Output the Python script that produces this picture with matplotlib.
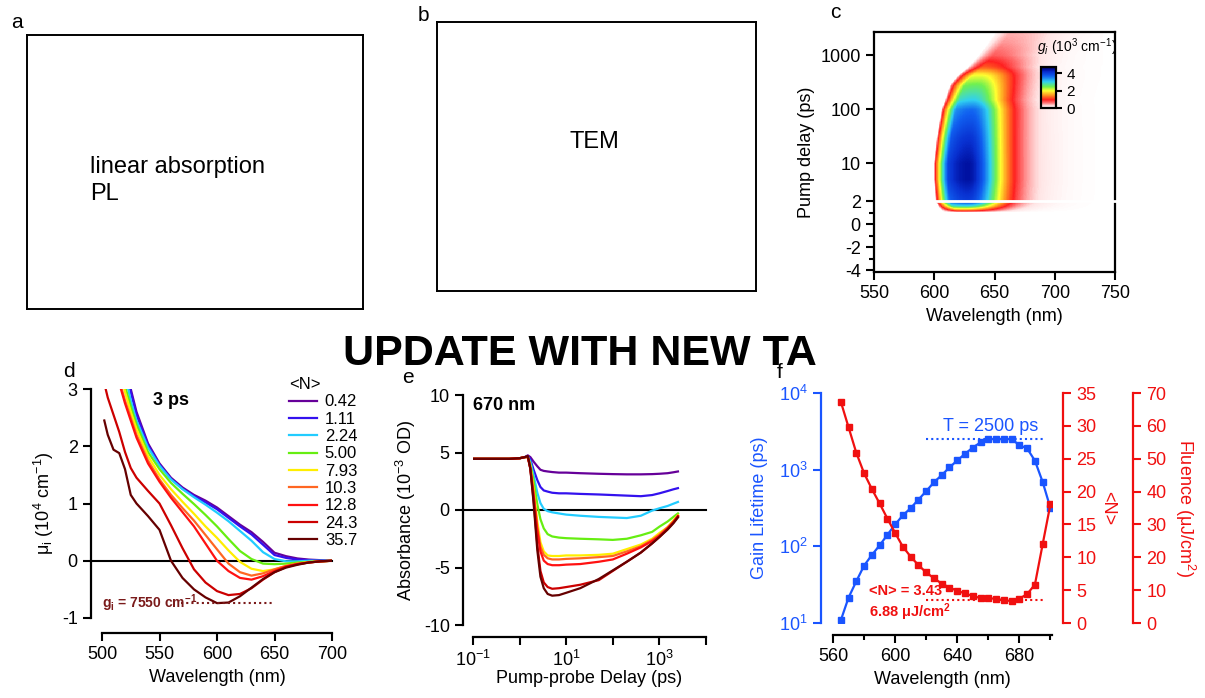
import numpy as np
import matplotlib
matplotlib.use('Agg')
import matplotlib.pyplot as plt
from matplotlib.colors import LinearSegmentedColormap
from matplotlib.ticker import FixedLocator, FixedFormatter, NullLocator

plt.rcParams['font.family'] = ['Liberation Sans', 'DejaVu Sans']
plt.rcParams['mathtext.fontset'] = 'custom'
plt.rcParams['mathtext.rm'] = 'Liberation Sans'
plt.rcParams['mathtext.it'] = 'Liberation Sans:italic'
plt.rcParams['mathtext.bf'] = 'Liberation Sans:bold'
plt.rcParams['axes.unicode_minus'] = False

gain_delay = [1.0, 1.1, 1.3, 1.6, 2.0, 5.0, 10.0, 30.0, 100.0, 150.0, 280.0, 430.0, 600.0, 1000.0, 1700.0, 2700.0]
gain_peak = [0.0, 0.8, 1.8, 3.0, 4.0, 4.4, 4.4, 4.1, 3.6, 3.0, 2.5, 2.0, 1.2, 0.7, 0.5, 0.4]
gain_peak_wl = [626, 626, 626, 627, 628, 628, 628, 629, 631, 632, 635, 638, 641, 647, 655, 662]
gain_left_edge = [608, 607, 605, 603, 601, 599.5, 599.5, 602, 606, 609, 613, 620, 628, 637, 645, 651]
gain_tail_width = [28, 28, 28, 28, 28, 28, 28, 28, 28, 28, 29, 30, 32, 36, 40, 44]

# ---- panel d : 3 ps spectra
N_labels = ['0.42', '1.11', '2.24', '5.00', '7.93', '10.3', '12.8', '24.3', '35.7']
N_colors = ['#660099', '#3311ee', '#22ccff', '#66ee11', '#ffee00', '#ff6622', '#ff1111', '#cc0000', '#660000']
wl_d = [502, 505, 510, 515, 520, 525, 530, 540, 550, 560, 570, 580, 590, 600,
        610, 620, 630, 640, 650, 660, 670, 680, 690, 700]
mu_042 = [6.0, 5.5, 4.8, 4.1, 3.5, 3.0, 2.6, 2.05, 1.70, 1.45, 1.28, 1.15, 1.05, 0.93,
          0.78, 0.63, 0.50, 0.33, 0.14, 0.08, 0.04, 0.02, 0.01, 0.0]
mu_111 = [5.9, 5.4, 4.7, 4.0, 3.45, 2.95, 2.55, 2.02, 1.68, 1.43, 1.26, 1.13, 1.02, 0.90,
          0.75, 0.60, 0.46, 0.28, 0.10, 0.05, 0.02, 0.01, 0.0, 0.0]
mu_224 = [5.7, 5.2, 4.5, 3.8, 3.25, 2.8, 2.45, 1.98, 1.66, 1.42, 1.25, 1.11, 0.98, 0.84,
          0.69, 0.52, 0.35, 0.15, 0.03, -0.01, -0.01, 0.0, 0.0, 0.0]
mu_500 = [5.4, 4.9, 4.3, 3.6, 3.05, 2.7, 2.38, 1.9, 1.6, 1.36, 1.17, 0.99, 0.80, 0.60,
          0.38, 0.17, 0.03, -0.05, -0.06, -0.05, -0.03, -0.02, -0.01, 0.0]
mu_793 = [5.2, 4.7, 4.1, 3.4, 2.95, 2.6, 2.3, 1.83, 1.5, 1.25, 1.03, 0.82, 0.60, 0.40,
          0.18, -0.02, -0.14, -0.18, -0.15, -0.09, -0.05, -0.02, -0.01, 0.0]
mu_103 = [5.0, 4.5, 3.8, 3.15, 2.8, 2.5, 2.2, 1.75, 1.42, 1.15, 0.92, 0.70, 0.45, 0.20,
          -0.05, -0.20, -0.26, -0.22, -0.15, -0.09, -0.05, -0.03, -0.01, 0.0]
mu_128 = [4.9, 4.4, 3.7, 3.1, 2.75, 2.45, 2.15, 1.7, 1.38, 1.1, 0.85, 0.60, 0.30, 0.0,
          -0.18, -0.30, -0.33, -0.27, -0.18, -0.10, -0.06, -0.03, -0.01, 0.0]
mu_243 = [3.1, 2.85, 2.55, 2.25, 1.9, 1.62, 1.45, 1.22, 1.0, 0.62, 0.22, -0.15, -0.38, -0.53,
          -0.60, -0.58, -0.48, -0.33, -0.20, -0.11, -0.06, -0.03, -0.01, 0.0]
mu_357 = [2.45, 2.2, 1.94, 1.88, 1.6, 1.15, 1.0, 0.78, 0.54, 0.0, -0.30, -0.50, -0.64, -0.74,
          -0.73, -0.62, -0.47, -0.32, -0.20, -0.12, -0.07, -0.03, -0.01, 0.0]
mu_all = [mu_042, mu_111, mu_224, mu_500, mu_793, mu_103, mu_128, mu_243, mu_357]

# ---- panel e : 670 nm kinetics
delay_e = [0.1, 0.3, 0.6, 1.0, 1.3, 1.5, 1.7, 2.0, 2.4, 2.8, 3.3, 4.0, 5.0, 7.0, 10, 20, 50,
           100, 200, 400, 700, 1000, 1500, 2000, 2500]
abs_042 = [4.45, 4.45, 4.45, 4.5, 4.6, 4.75, 4.6, 4.2, 3.8, 3.5, 3.4, 3.35, 3.3, 3.25, 3.25, 3.2, 3.15,
           3.12, 3.1, 3.1, 3.12, 3.15, 3.2, 3.28, 3.35]
abs_111 = [4.45, 4.45, 4.45, 4.5, 4.6, 4.7, 4.4, 3.5, 2.6, 2.0, 1.7, 1.6, 1.5, 1.45, 1.45, 1.4, 1.35,
           1.3, 1.25, 1.2, 1.3, 1.45, 1.65, 1.8, 1.9]
abs_224 = [4.45, 4.45, 4.45, 4.5, 4.6, 4.65, 4.2, 3.0, 1.5, 0.6, 0.1, -0.1, -0.2, -0.3, -0.4, -0.5, -0.6,
           -0.65, -0.7, -0.5, -0.05, 0.15, 0.35, 0.55, 0.7]
abs_500 = [4.45, 4.45, 4.45, 4.5, 4.6, 4.6, 4.0, 2.5, 0.5, -0.8, -1.6, -2.1, -2.3, -2.4, -2.45, -2.5, -2.55,
           -2.6, -2.5, -2.2, -1.9, -1.45, -1.0, -0.6, -0.3]
abs_793 = [4.45, 4.45, 4.45, 4.5, 4.6, 4.6, 3.8, 1.8, -1.0, -2.8, -3.6, -3.95, -4.0, -4.0, -3.95, -3.95, -3.9,
           -3.8, -3.4, -3.0, -2.5, -2.0, -1.5, -0.9, -0.45]
abs_103 = [4.45, 4.45, 4.45, 4.5, 4.6, 4.6, 3.7, 1.5, -1.5, -3.2, -3.9, -4.2, -4.3, -4.3, -4.25, -4.2, -4.1,
           -4.0, -3.6, -3.15, -2.6, -2.15, -1.5, -1.0, -0.5]
abs_128 = [4.45, 4.45, 4.45, 4.5, 4.6, 4.6, 3.6, 1.3, -1.8, -3.6, -4.4, -4.7, -4.8, -4.8, -4.75, -4.7, -4.5,
           -4.3, -3.8, -3.25, -2.7, -2.25, -1.6, -1.05, -0.55]
abs_243 = [4.45, 4.45, 4.45, 4.5, 4.6, 4.65, 3.6, 0.8, -3.0, -5.3, -6.3, -6.7, -6.85, -6.8, -6.7, -6.5, -6.1,
           -5.3, -4.5, -3.7, -2.9, -2.35, -1.65, -1.1, -0.55]
abs_357 = [4.45, 4.45, 4.45, 4.5, 4.6, 4.7, 3.6, 0.6, -3.5, -5.8, -6.8, -7.3, -7.45, -7.4, -7.2, -6.8, -6.0,
           -5.25, -4.5, -3.7, -2.9, -2.35, -1.7, -1.15, -0.65]
abs_all = [abs_042, abs_111, abs_224, abs_500, abs_793, abs_103, abs_128, abs_243, abs_357]

# ---- panel f : gain lifetime and threshold <N>
wl_f = [565, 570, 575, 580, 585, 590, 595, 600, 605, 610, 615, 620, 625, 630,
        635, 640, 645, 650, 655, 660, 665, 670, 675, 680, 685, 690, 695, 700]
lifetime = [10.8, 21.4, 35, 56, 77, 103, 141, 193, 254, 315, 407, 524, 685, 850,
            1070, 1320, 1610, 1940, 2270, 2500, 2500, 2500, 2500, 2090, 1890, 1310, 690, 315]
N_thresh = [33.7, 29.8, 25.9, 22.8, 20.4, 18.2, 15.9, 13.7, 11.6, 10.1, 8.8, 7.7, 6.8, 6.0,
            5.4, 4.9, 4.5, 4.1, 3.8, 3.75, 3.7, 3.45, 3.35, 3.7, 4.4, 5.85, 12.0, 18.1]

W, H = 1205, 698


def rect(l, t, r, b):
    return [l / W, 1 - b / H, (r - l) / W, (b - t) / H]


def ftxt(x, y, s, **kw):
    fig.text(x / W, 1 - y / H, s, **kw)


fig = plt.figure(figsize=(W / 100, H / 100), dpi=100)
PX = 0.72  # points per pixel
TL = 6     # major tick length, points

# panels a, b : placeholders
ax_a = fig.add_axes(rect(27, 35, 363, 309))
ax_b = fig.add_axes(rect(437, 22, 756, 291))
for ax in (ax_a, ax_b):
    ax.set_xticks([])
    ax.set_yticks([])
    for sp in ax.spines.values():
        sp.set_linewidth(1.4)
ftxt(90, 173, 'linear absorption', fontsize=17, va='baseline')
ftxt(90, 200, 'PL', fontsize=17, va='baseline')
ftxt(570, 148, 'TEM', fontsize=17, va='baseline')
ftxt(11, 28, 'a', fontsize=15, va='baseline')
ftxt(418, 21, 'b', fontsize=15, va='baseline')

# panel c
k = 11.5 / 54.0


def fwd(y):
    y = np.asarray(y, dtype=float)
    return np.where(y > 2, np.log10(np.maximum(y, 2) / 2), (y - 2) * k)


def inv(z):
    z = np.asarray(z, dtype=float)
    return np.where(z > 0, 2 * 10 ** np.minimum(z, 10), z / k + 2)


wl_grid = np.arange(590, 740.1, 0.5)
t_grid = np.logspace(0, np.log10(2700), 500)
lt = np.log10(t_grid)
lk = np.log10(gain_delay)
pk = np.interp(lt, lk, gain_peak)[:, None]
pw = np.interp(lt, lk, gain_peak_wl)[:, None]
le = np.interp(lt, lk, gain_left_edge)[:, None]
tw = np.interp(lt, lk, gain_tail_width)[:, None]
d = wl_grid[None, :] - pw
right = 0.85 * np.exp(-(d / tw) ** 2) + 0.15 * np.exp(-(d / (2 * tw)) ** 2)
left = np.exp(-(d / 50) ** 2)
s = np.clip((wl_grid[None, :] - le) / 12, 0, 1) ** 0.6
G = pk * np.where(d > 0, right, left) * s

cmap = LinearSegmentedColormap.from_list('gain', [
    (0.0, '#ffffff'), (0.05, '#ffe4e4'), (0.13, '#ff7070'), (0.2, '#ff2020'),
    (0.3, '#ff8a20'), (0.42, '#ffff30'), (0.52, '#70f050'), (0.64, '#30d0f0'),
    (0.78, '#1060f0'), (0.88, '#0830d0'), (0.94, '#0010a0'), (1.0, '#000050')])

ax_c = fig.add_axes(rect(874, 32, 1115, 272))
ax_c.set_yscale('function', functions=(fwd, inv))
mesh = ax_c.pcolormesh(wl_grid, t_grid, G, cmap=cmap, vmin=0, vmax=4.7,
                       shading='nearest', rasterized=True)
ax_c.set_xlim(550, 750)
ax_c.set_ylim(-4.17, 2700)
ax_c.yaxis.set_major_locator(FixedLocator([-4, -2, 0, 2, 10, 100, 1000]))
ax_c.yaxis.set_major_formatter(FixedFormatter(['-4', '-2', '0', '2', '10', '100', '1000']))
ax_c.yaxis.set_minor_locator(FixedLocator([-3, -1, 1]))
ax_c.set_xticks([550, 600, 650, 700, 750])
ax_c.xaxis.set_minor_locator(NullLocator())
ax_c.tick_params(which='both', direction='out', width=1.5, labelsize=13)
ax_c.tick_params(which='major', length=TL)
ax_c.tick_params(which='minor', length=3.5)
for sp in ax_c.spines.values():
    sp.set_linewidth(1.6)
ax_c.axhline(2, xmin=0.2, xmax=1.02, color='white', lw=2, zorder=5, clip_on=False)
ax_c.set_xlabel('Wavelength (nm)', fontsize=13)
ax_c.set_ylabel('Pump delay (ps)', fontsize=13)
ftxt(830, 18, 'c', fontsize=15, va='baseline')

cax = fig.add_axes(rect(1041, 67, 1056, 108))
cb = fig.colorbar(mesh, cax=cax, ticks=[0, 2, 4])
cb.outline.set_linewidth(1.6)
cax.tick_params(direction='out', length=4, width=1.5, labelsize=11)
ftxt(1037, 47, r'$g_i$ (10$^3$ cm$^{-1}$)', fontsize=10, va='center')

# panel d
ax_d = fig.add_axes(rect(102, 389, 332, 618))
for vals, c, lab in zip(mu_all, N_colors, N_labels):
    ax_d.plot(wl_d, vals, color=c, lw=1.6, label=lab)
ax_d.plot([-11 / 230, 1], [0, 0], transform=ax_d.get_yaxis_transform(),
          color='k', lw=1.5, clip_on=False, zorder=1.5)
ax_d.plot([569, 649], [-0.74, -0.74], color='#7a1a1a', lw=1.5, ls=(0, (1, 1.5)))
ax_d.text(500, -0.74, r'g$_\mathregular{i}$ = 7550 cm$^\mathregular{-1}$', color='#7a1a1a',
          fontsize=10, fontweight='bold', va='center', ha='left')
ax_d.set_xlim(500, 700)
ax_d.set_ylim(-1, 3)
ax_d.set_xticks([500, 550, 600, 650, 700])
ax_d.set_yticks([-1, 0, 1, 2, 3])
ax_d.set_xlabel('Wavelength (nm)', fontsize=13)
ax_d.set_ylabel(r'μ$_\mathregular{i}$ (10$^\mathregular{4}$ cm$^\mathregular{-1}$)', fontsize=13)
ax_d.text(0.22, 0.985, '3 ps', transform=ax_d.transAxes, fontsize=13, fontweight='bold',
          va='top', ha='left')
leg = ax_d.legend(title='<N>', loc='upper left', bbox_to_anchor=(289 / W, 1 - 377 / H),
                  bbox_transform=fig.transFigure, frameon=False, fontsize=12, title_fontsize=12,
                  handlelength=1.7, handletextpad=0.45, labelspacing=0.14, borderpad=0,
                  borderaxespad=0, alignment='left')
ftxt(63, 377, 'd', fontsize=15, va='baseline')

# panel e
ax_e = fig.add_axes(rect(473, 395, 706, 625))
for vals, c in zip(abs_all, N_colors):
    ax_e.plot(delay_e, vals, color=c, lw=1.6)
ax_e.plot([-10 / 233, 1], [0, 0], transform=ax_e.get_yaxis_transform(),
          color='k', lw=1.5, clip_on=False, zorder=1.5)
ax_e.set_xscale('log')
ax_e.set_xlim(0.1, 1e4)
ax_e.set_ylim(-10, 10)
ax_e.xaxis.set_major_locator(FixedLocator([0.1, 1, 10, 100, 1000, 10000]))
ax_e.xaxis.set_major_formatter(FixedFormatter([r'10$^{-1}$', '', r'10$^{1}$', '', r'10$^{3}$', '']))
ax_e.xaxis.set_minor_locator(NullLocator())
ax_e.set_yticks([-10, -5, 0, 5, 10])
ax_e.set_xlabel('Pump-probe Delay (ps)', fontsize=13, labelpad=0)
ax_e.set_ylabel(r'Absorbance (10$^{-3}$ OD)', fontsize=13)
ax_e.text(0.0, 0.955, '670 nm', transform=ax_e.transAxes, fontsize=13, fontweight='bold',
          va='center', ha='left')
ftxt(402, 383, 'e', fontsize=15, va='baseline')

for ax, dl, db in ((ax_d, 11, 15), (ax_e, 10, 12)):
    ax.spines['top'].set_visible(False)
    ax.spines['right'].set_visible(False)
    ax.spines['left'].set_position(('outward', dl * PX))
    ax.spines['bottom'].set_position(('outward', db * PX))
    ax.spines['left'].set_linewidth(1.6)
    ax.spines['bottom'].set_linewidth(1.6)
    ax.tick_params(direction='out', length=TL, width=1.5, labelsize=13)

# panel f
blue = '#1a55ff'
red = '#f01010'
ax_f = fig.add_axes(rect(833, 393, 1052, 623))
ax_f.plot(wl_f, lifetime, color=blue, lw=1.6, marker='s', ms=4.5)
ax_f.plot([620, 695], [2500, 2500], color=blue, lw=1.5, ls=(0, (1, 1.5)))
ax_f.text(631, 3700, 'T = 2500 ps', color=blue, fontsize=13, va='center', ha='left')
ax_f.set_yscale('log')
ax_f.set_ylim(10, 1e4)
ax_f.set_xlim(560, 701)
ax_f.yaxis.set_major_locator(FixedLocator([10, 100, 1000, 10000]))
ax_f.yaxis.set_major_formatter(FixedFormatter([r'10$^{1}$', r'10$^{2}$', r'10$^{3}$', r'10$^{4}$']))
ax_f.yaxis.set_minor_locator(NullLocator())
ax_f.xaxis.set_major_locator(FixedLocator([560, 600, 640, 680]))
ax_f.xaxis.set_minor_locator(FixedLocator([580, 620, 660, 700]))
ax_f.set_xlabel('Wavelength (nm)', fontsize=13)
ax_f.set_ylabel('Gain Lifetime (ps)', fontsize=13, color=blue, labelpad=8)
ax_f.tick_params(axis='y', colors=blue)
ax_f.spines['left'].set_color(blue)

ax_n = ax_f.twinx()
ax_n.plot(wl_f, N_thresh, color=red, lw=1.6, marker='s', ms=4.5)
ax_n.plot([620, 695], [3.43, 3.43], color=red, lw=1.5, ls=(0, (1, 1.5)))
ax_n.text(583.5, 4.9, '<N> = 3.43', color=red, fontsize=10.5, fontweight='bold',
          va='center', ha='left')
ax_n.text(583.5, 1.65, r'6.88 μJ/cm$^\mathregular{2}$', color=red, fontsize=10.5,
          fontweight='bold', va='center', ha='left')
ax_n.set_ylim(0, 35)
ax_n.set_yticks(range(0, 36, 5))
ax_n.set_ylabel('<N>', fontsize=13, color=red, rotation=270, labelpad=14)

ax_fl = ax_f.twinx()
ax_fl.set_ylim(0, 70)
ax_fl.set_yticks(range(0, 71, 10))
ax_fl.set_ylabel(r'Fluence (μJ/cm$^\mathregular{2}$)', fontsize=13, color=red, rotation=270,
                 labelpad=22)

for ax in (ax_f, ax_n, ax_fl):
    ax.spines['top'].set_visible(False)
    ax.spines['right'].set_visible(False)
    ax.tick_params(which='both', direction='out', width=1.5, labelsize=13)
    ax.tick_params(which='major', length=TL)
    ax.tick_params(which='minor', length=3.5)
ax_n.spines['left'].set_visible(False)
ax_n.spines['bottom'].set_visible(False)
ax_fl.spines['left'].set_visible(False)
ax_fl.spines['bottom'].set_visible(False)
ax_f.spines['left'].set_position(('outward', 12 * PX))
ax_f.spines['bottom'].set_position(('outward', 12 * PX))
ax_f.spines['left'].set_linewidth(1.6)
ax_f.spines['bottom'].set_linewidth(1.6)
for ax, off in ((ax_n, 11), (ax_fl, 81)):
    ax.spines['right'].set_visible(True)
    ax.spines['right'].set_position(('outward', off * PX))
    ax.spines['right'].set_color(red)
    ax.spines['right'].set_linewidth(1.6)
    ax.tick_params(axis='y', colors=red)
ftxt(777, 378, 'f', fontsize=15, va='baseline')

ftxt(580, 365, 'UPDATE WITH NEW TA', fontsize=31, fontweight='bold', ha='center', va='baseline')

fig.savefig('out.png', dpi=100)
